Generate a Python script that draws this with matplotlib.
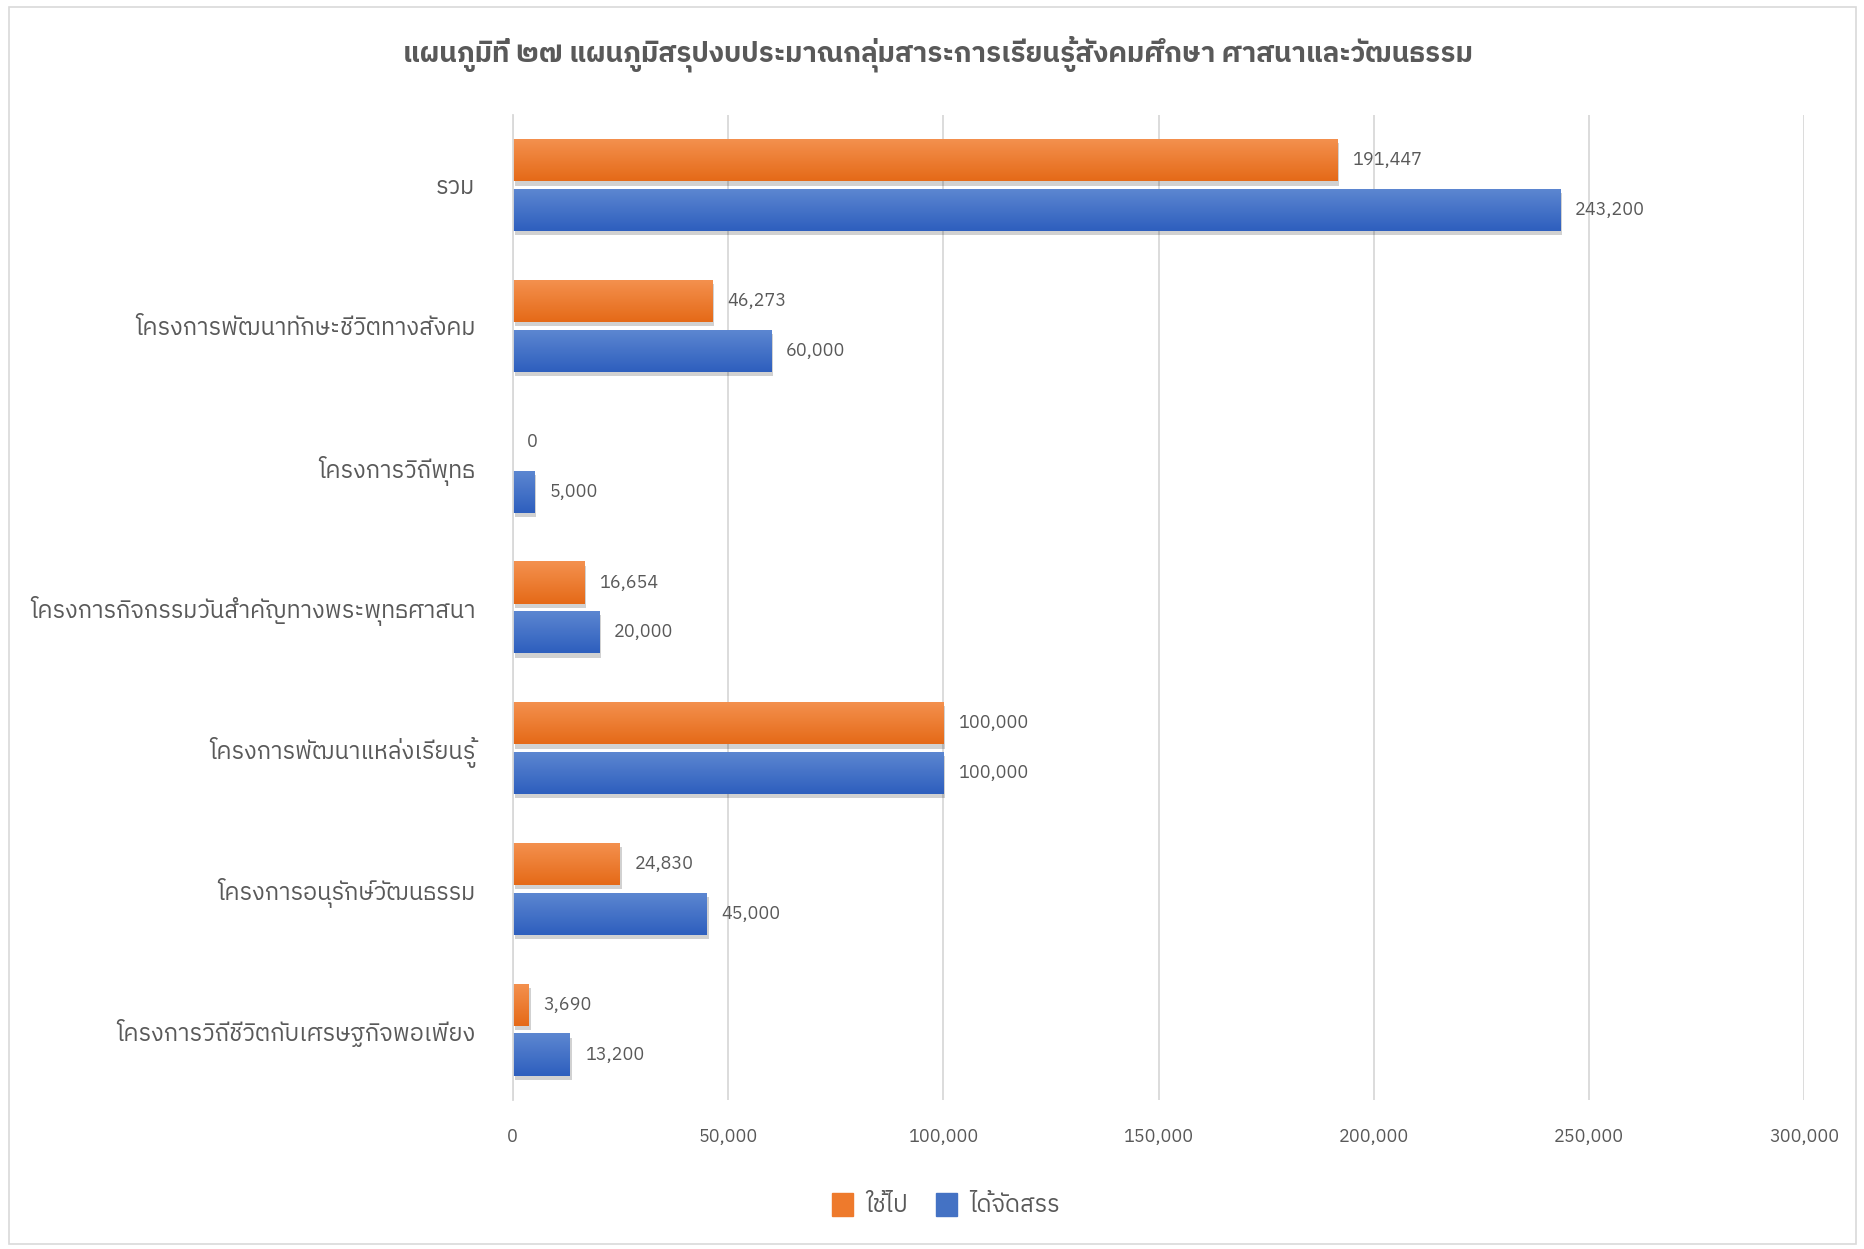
import matplotlib
matplotlib.use("Agg")
import matplotlib.pyplot as plt
import matplotlib.patheffects as pe
from matplotlib import font_manager
from matplotlib.ft2font import FT2Font
from matplotlib.patches import Rectangle
import numpy as np

categories = ["รวม",
              "โครงการพัฒนาทักษะชีวิตทางสังคม",
              "โครงการวิถีพุทธ",
              "โครงการกิจกรรมวันสำคัญทางพระพุทธศาสนา",
              "โครงการพัฒนาแหล่งเรียนรู้",
              "โครงการอนุรักษ์วัฒนธรรม",
              "โครงการวิถีชีวิตกับเศรษฐกิจพอเพียง"]
used = [191447, 46273, 0, 16654, 100000, 24830, 3690]
allocated = [243200, 60000, 5000, 20000, 100000, 45000, 13200]
series_names = ["ใช้ไป", "ได้จัดสรร"]
title = "แผนภูมิที่ ๒๗ แผนภูมิสรุปงบประมาณกลุ่มสาระการเรียนรู้สังคมศึกษา ศาสนาและวัฒนธรรม"
xticks = [0, 50000, 100000, 150000, 200000, 250000, 300000]

# find a family that has thai glyphs
thai_fam = None
for f in font_manager.fontManager.ttflist:
    try:
        if ord("ก") in FT2Font(f.fname).get_charmap():
            thai_fam = f.name
            if "Thai" in f.name and "Looped" not in f.name:
                break
    except Exception:
        pass
fams = ([thai_fam] if thai_fam else []) + ["DejaVu Sans"]
plt.rcParams["font.family"] = fams

grey = "#595959"
fig = plt.figure(figsize=(18.65, 12.49), dpi=100)
fig.patches.append(Rectangle((0.005, 0.004), 0.99, 0.99, transform=fig.transFigure,
                             fill=False, edgecolor="#D9D9D9", lw=1.2))
ax = fig.add_axes([0.2749, 0.1193, 0.6926, 0.7887])

y = np.arange(len(categories))
h = 0.30
off = 0.177

def grad_bars(ys, vals, top, bot):
    cmap = matplotlib.colors.LinearSegmentedColormap.from_list("g", [top, bot])
    grad = np.linspace(0, 1, 50).reshape(-1, 1)
    for yy, v in zip(ys, vals):
        if v <= 0:
            continue
        r = ax.barh(yy, v, height=h, color=bot, zorder=3,
                    path_effects=[pe.SimplePatchShadow(offset=(1.5, -3), shadow_rgbFace="#000000", alpha=0.18), pe.Normal()])[0]
        im = ax.imshow(grad, cmap=cmap, aspect="auto", zorder=3.5,
                       extent=[0, v, yy + h / 2, yy - h / 2], interpolation="bilinear")
        im.set_clip_path(r)

grad_bars(y - off, used, "#F4914F", "#E56A18")
grad_bars(y + off, allocated, "#5D87D1", "#2E5FBE")

for yy, v in zip(y - off, used):
    ax.text(v + 3500 if v else 3300, yy, f"{v:,}", va="center", ha="left", fontsize=13, color=grey)
for yy, v in zip(y + off, allocated):
    ax.text(v + 3500, yy, f"{v:,}", va="center", ha="left", fontsize=13, color=grey)

ax.set_xlim(0, 300000)
ax.set_ylim(len(categories) - 0.5, -0.5)
ax.set_xticks(xticks)
ax.set_xticklabels([f"{t:,}" for t in xticks], fontsize=13, color=grey)
ax.set_yticks(y)
ax.set_yticklabels(categories, fontsize=17, color=grey)
ax.tick_params(axis="both", length=0)
ax.tick_params(axis="y", pad=27)
ax.tick_params(axis="x", pad=20)
ax.grid(axis="x", color="#D9D9D9", lw=1.3, zorder=0)
for s in ["top", "right", "bottom"]:
    ax.spines[s].set_visible(False)
ax.spines["left"].set_color("#D9D9D9")
ax.spines["left"].set_linewidth(1.3)
ax.spines["left"].set_zorder(4)

fig.text(0.503, 0.957, title, ha="center", va="center", fontsize=20, fontweight="bold", color=grey)

handles = [Rectangle((0, 0), 1, 1, color="#EE7A2C"), Rectangle((0, 0), 1, 1, color="#4472C4")]
fig.legend(handles, series_names, loc="center", bbox_to_anchor=(0.507, 0.035), ncol=2,
           frameon=False, fontsize=17, labelcolor=grey, handlelength=0.9, handleheight=1.1,
           columnspacing=1.2, handletextpad=0.5)

fig.savefig("out.png", dpi=100, facecolor="white")
